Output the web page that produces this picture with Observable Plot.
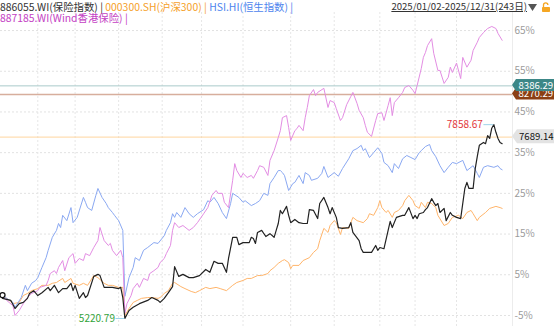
<!DOCTYPE html>
<html><head><meta charset="utf-8">
<script src="https://cdn.jsdelivr.net/npm/d3@7"></script>
<script src="https://cdn.jsdelivr.net/npm/@observablehq/plot@0.6"></script>
<style>
html,body{margin:0;padding:0;background:#fff;}
#wrap{position:relative;width:554px;height:326px;overflow:hidden;font-family:"Noto Sans CJK SC","Noto Sans",sans-serif;}
#legend{position:absolute;left:0;top:1px;font-size:10.4px;line-height:11px;z-index:2;white-space:nowrap}
#range{position:absolute;right:27px;top:1px;font-size:9.6px;line-height:11px;color:#333;text-decoration:underline;z-index:2;white-space:nowrap}
#tri{position:absolute;left:528px;top:4px;z-index:2}
#lock{position:absolute;left:541px;top:2px;z-index:2}
</style></head>
<body>
<div id="wrap">
  <div id="legend"></div>
  <div id="range"></div>
  <svg id="tri" width="9" height="8"><polygon points="0,0 9,0 4.5,7" fill="#555"/></svg>
  <svg id="lock" width="10" height="10"><path d="M2.5 5 V3 a2.2 2.2 0 0 1 4.4 0" fill="none" stroke="#f5a623" stroke-width="1.3"/><rect x="1" y="5" width="8" height="5" rx="0.8" fill="#f5a623"/></svg>
</div>
<script>
// ---- data (trading-day index since 2025/01/02, % change) ----
const categories = ["886055.WI(保险指数)", "000300.SH(沪深300)", "HSI.HI(恒生指数)", "887185.WI(Wind香港保险)"];
const seriesColors = ["#222222", "#ffb56b", "#8aa8f2", "#e38de3"];
const legendColors = ["#333333", "#f5a02a", "#4d84ee", "#c441c4"];
const dateRange = "2025/01/02-2025/12/31(243日)";
const monthStarts = [18, 36, 57, 78, 97, 117, 140, 161, 183, 200, 220];
const yTicks = [-5, 5, 15, 25, 35, 45, 55, 65];
const basePrice = 5539;
const refLevels = [8270.29, 8386.29];
const lastPrice = 7689.14;
const maxPoint = [238, 7858.67];
const minPoint = [60, 5220.79];

const insuranceIdx = [[0,0],[1,-0.8],[5,-1.3],[7,-3.3],[9,-2.1],[11,-1.8],[13,-0.8],[14,0.4],[16,1.1],[18,-0.1],[20,0.6],[23,1.9],[24,1.1],[26,2.4],[28,0.6],[30,1.6],[32,1.6],[34,2.9],[35,1.1],[36,2.4],[38,-0.8],[40,0.6],[41,-0.6],[42,-0.1],[45,4.6],[47,5.1],[48,4.8],[50,1.9],[52,1.9],[54,1.9],[57,1.6],[58,1.9],[59,-0.6],[60,-5.75],[62,-3.8],[64,-3.0],[67,-2.1],[71,-1.3],[73,-0.6],[76,-1.3],[77,-1.8],[79,-0.8],[81,0.6],[83,2.1],[84,7.0],[86,4.6],[88,5.1],[91,4.3],[93,4.3],[96,4.8],[99,6.3],[101,5.6],[103,8.3],[105,7.8],[107,7.8],[109,5.6],[110,9.0],[112,14.2],[114,14.2],[115,12.4],[117,12.9],[120,12.9],[121,14.2],[122,13.9],[123,12.7],[124,15.4],[126,15.9],[128,14.4],[130,15.1],[132,14.2],[133,15.9],[134,17.6],[135,20.8],[136,20.0],[138,21.8],[139,19.6],[140,17.8],[142,18.6],[144,17.8],[146,17.6],[148,17.6],[149,21.0],[151,20.8],[153,18.8],[154,22.5],[156,24.0],[158,21.5],[159,20.0],[160,21.5],[162,19.1],[163,16.6],[165,16.4],[168,16.6],[169,17.8],[170,15.4],[173,13.4],[174,11.4],[175,10.5],[177,10.5],[179,10.5],[181,12.2],[182,11.0],[183,11.7],[185,11.4],[187,15.9],[188,18.1],[189,16.6],[191,19.1],[194,19.6],[195,19.6],[197,21.5],[199,18.8],[200,19.6],[201,18.8],[202,20.0],[204,20.3],[205,21.0],[206,21.5],[208,23.7],[209,22.8],[210,22.0],[211,22.5],[212,20.3],[214,21.3],[215,18.3],[217,20.3],[218,19.6],[220,19.1],[222,18.8],[224,26.2],[225,27.7],[226,26.2],[228,26.2],[229,31.0],[230,34.0],[231,36.8],[233,37.5],[234,37.2],[235,39.2],[236,38.5],[237,41.0],[238,41.9],[239,40.0],[240,38.5],[241,37.5],[242,37.2]];

const csi300 = [[0,0],[3,-0.8],[6,-2.1],[9,-1.8],[11,-0.1],[13,0.4],[15,1.1],[18,1.6],[20,2.4],[23,2.4],[25,2.9],[27,3.1],[30,4.1],[31,3.1],[34,4.1],[35,2.9],[38,2.4],[40,2.9],[42,2.4],[45,4.8],[47,4.3],[50,2.9],[52,2.4],[54,2.4],[57,1.9],[59,1.9],[60,-5.0],[62,-3.3],[64,-1.8],[66,-1.3],[68,-0.8],[71,-0.6],[73,-0.6],[76,-0.8],[77,-0.6],[79,0.4],[81,1.1],[83,2.9],[84,3.1],[87,2.1],[89,1.6],[92,0.9],[94,0.6],[96,1.1],[99,1.9],[101,1.6],[104,1.9],[106,1.6],[109,1.1],[112,2.4],[114,3.1],[117,3.6],[119,4.1],[121,4.1],[124,4.8],[126,4.8],[129,5.3],[130,6.0],[132,6.8],[134,7.8],[136,8.5],[137,8.7],[139,8.0],[140,6.5],[141,7.3],[144,7.3],[146,8.5],[149,9.2],[151,10.5],[153,11.4],[154,13.4],[156,16.4],[158,15.4],[159,17.1],[161,18.3],[162,17.8],[164,14.9],[165,16.6],[168,16.4],[170,19.1],[172,18.3],[175,17.8],[177,18.8],[178,20.0],[180,19.6],[182,21.5],[183,23.2],[184,21.5],[186,20.3],[187,20.8],[189,19.1],[190,20.3],[192,20.8],[194,22.0],[195,23.2],[197,24.5],[199,23.2],[200,22.0],[202,21.3],[203,22.8],[205,21.5],[206,22.8],[208,22.5],[210,21.5],[211,19.6],[214,17.1],[216,17.6],[218,19.1],[221,19.6],[223,18.8],[225,20.3],[227,20.8],[228,20.0],[230,18.3],[231,19.1],[234,20.3],[236,21.3],[239,21.8],[241,21.5],[242,21.3]];

const hsi = [[0,0],[3,-0.8],[6,-1.8],[7,-3.0],[10,-0.6],[12,2.4],[13,1.1],[15,2.9],[17,3.6],[18,4.3],[20,6.8],[22,9.2],[23,11.0],[25,14.2],[27,15.9],[28,17.6],[29,16.6],[30,19.6],[32,18.3],[34,21.5],[35,17.8],[37,19.1],[40,24.0],[41,22.8],[42,21.5],[44,20.8],[46,24.5],[47,26.2],[49,24.0],[51,22.5],[52,21.5],[54,20.3],[55,19.6],[57,18.3],[59,15.9],[60,-0.3],[62,4.3],[64,6.8],[65,9.2],[67,8.5],[69,11.0],[71,11.7],[74,12.9],[76,12.7],[79,14.6],[80,15.9],[82,17.8],[83,20.0],[84,19.1],[85,20.3],[87,19.1],[89,21.5],[91,20.0],[93,19.1],[95,20.0],[98,21.0],[100,23.2],[101,22.8],[103,24.0],[105,22.5],[107,20.3],[109,18.8],[111,22.5],[112,25.0],[115,24.0],[117,22.8],[118,23.2],[121,22.0],[123,22.5],[125,23.2],[127,25.0],[129,24.5],[130,27.4],[132,28.9],[134,30.6],[135,30.6],[136,30.1],[137,29.4],[139,25.7],[141,27.4],[142,27.7],[144,29.4],[146,27.4],[147,30.1],[149,29.4],[150,28.2],[153,28.7],[155,29.9],[156,31.6],[158,28.9],[161,30.1],[163,29.2],[165,31.1],[168,33.5],[170,35.5],[172,36.0],[174,36.8],[175,35.5],[176,36.0],[178,33.8],[180,35.0],[182,36.2],[184,34.8],[185,32.6],[187,31.8],[189,30.1],[190,32.3],[192,31.1],[194,33.5],[196,34.3],[198,33.8],[200,33.3],[202,35.0],[203,35.5],[205,36.5],[207,37.0],[208,35.5],[210,34.0],[212,31.8],[214,30.1],[216,31.4],[218,32.6],[220,32.3],[223,33.1],[225,30.6],[228,31.8],[230,29.9],[231,28.9],[233,31.4],[235,31.8],[238,31.4],[240,31.8],[241,31.1],[242,30.8]];

const hkInsurance = [[0,0],[3,-1.3],[6,-2.6],[7,-5.0],[9,-3.8],[11,-2.1],[13,-0.6],[15,0.4],[18,1.1],[19,1.9],[22,2.4],[23,3.6],[24,5.3],[26,6.0],[27,5.3],[28,6.8],[30,8.5],[31,6.0],[33,9.2],[35,10.2],[36,7.8],[38,9.0],[40,8.5],[41,10.2],[43,9.7],[45,11.7],[47,13.4],[48,16.6],[50,13.4],[52,12.2],[53,12.7],[54,11.0],[56,9.7],[58,11.0],[59,9.2],[60,-4.5],[61,-2.1],[63,-0.1],[64,1.6],[66,2.9],[67,1.9],[69,4.1],[71,3.6],[72,5.3],[74,6.0],[76,6.8],[77,8.0],[79,9.0],[80,10.2],[82,12.2],[83,15.9],[84,17.8],[86,16.6],[88,17.1],[91,15.9],[93,16.6],[95,17.8],[98,20.0],[100,21.5],[102,24.5],[104,25.7],[105,25.0],[107,25.0],[108,22.8],[110,21.5],[112,28.2],[113,32.3],[114,30.6],[116,28.9],[117,29.9],[119,28.9],[121,29.4],[122,28.7],[124,30.6],[125,31.8],[127,31.4],[129,29.4],[130,33.1],[132,35.5],[134,38.7],[135,40.4],[136,43.6],[138,44.1],[139,41.2],[140,38.0],[142,40.4],[143,40.9],[144,41.7],[146,40.4],[147,43.6],[148,46.1],[149,49.0],[151,50.5],[152,49.0],[153,49.8],[156,50.8],[158,46.1],[159,47.8],[161,47.3],[162,45.8],[164,42.9],[165,43.6],[167,46.8],[169,48.8],[170,49.8],[172,47.1],[173,45.4],[175,43.6],[176,41.7],[177,40.0],[179,39.0],[181,42.9],[182,44.6],[184,44.8],[185,42.9],[187,46.6],[188,48.5],[189,44.1],[190,47.3],[192,48.5],[194,49.8],[195,51.0],[197,51.5],[199,50.3],[200,49.5],[201,51.5],[203,55.7],[204,58.4],[205,59.6],[206,61.3],[208,63.0],[209,59.4],[211,55.2],[212,55.2],[214,52.0],[216,53.5],[217,56.0],[218,54.7],[220,57.0],[222,53.2],[223,58.4],[225,56.0],[227,57.7],[228,60.1],[230,62.1],[231,63.3],[233,64.5],[235,65.5],[237,66.0],[239,65.5],[240,64.3],[242,62.6]];

// ---- header html ----
const legend = document.getElementById("legend");
const line1 = categories.slice(0, 3).map((c, i) => `<span style="color:${legendColors[i]}">${c} |</span>`).join(" ");
const line2 = `<span style="color:${legendColors[3]}">${categories[3]} |</span>`;
legend.innerHTML = line1 + "<br>" + line2;
document.getElementById("range").textContent = dateRange;

const pct = p => (p / basePrice - 1) * 100;
const xMax = 247;
const fx = d => d[0], fy = d => d[1];

const plot = Plot.plot({
  width: 554, height: 326,
  marginLeft: 0, marginRight: 42, marginTop: 12, marginBottom: 0,
  x: {domain: [0, xMax], axis: null},
  y: {domain: [-7.71, 69.43], axis: "right", ticks: yTicks, tickFormat: d => d + "%", tickSize: 0, tickPadding: 2, label: null},
  style: {fontFamily: '"Noto Sans CJK SC","Noto Sans",sans-serif', fontSize: "10px", color: "#9c9c9c", background: "transparent", overflow: "visible"},
  marks: [
    Plot.ruleY(yTicks, {stroke: "#e2e2e2", strokeDasharray: "2,2"}),
    Plot.ruleX(monthStarts, {stroke: "#e6e6e6", strokeDasharray: "2,2"}),
    Plot.ruleX([xMax], {stroke: "#ececec"}),
    Plot.ruleY([pct(refLevels[1])], {stroke: "#a9caca"}),
    Plot.ruleY([pct(refLevels[0])], {stroke: "#d7ae9d", strokeWidth: 1.5}),
    Plot.ruleY([pct(lastPrice)], {stroke: "#ffd59e"}),
    Plot.line(csi300, {x: fx, y: fy, stroke: seriesColors[1], strokeWidth: 1}),
    Plot.line(hsi, {x: fx, y: fy, stroke: seriesColors[2], strokeWidth: 1}),
    Plot.line(hkInsurance, {x: fx, y: fy, stroke: seriesColors[3], strokeWidth: 1}),
    Plot.line(insuranceIdx, {x: fx, y: fy, stroke: seriesColors[0], strokeWidth: 1.2}),
    Plot.dot([insuranceIdx[0]], {x: fx, y: fy, r: 2.5, stroke: "#111", strokeWidth: 1.3, fill: "white", dx: 2}),
    // extreme annotations
    Plot.ruleY([maxPoint], {x1: d => d[0] - 4.8, x2: d => d[0], y: d => pct(d[1]), stroke: "#9fd3ea"}),
    Plot.text([maxPoint], {x: d => d[0] - 4.8, y: d => pct(d[1]), text: d => d[1].toFixed(2), textAnchor: "end", dx: -1, fill: "#e2383c", fontSize: 10}),
    Plot.ruleY([minPoint], {x1: d => d[0] - 4.3, x2: d => d[0], y: d => pct(d[1]), stroke: "#9fd3ea"}),
    Plot.text([minPoint], {x: d => d[0] - 4.3, y: d => pct(d[1]), text: d => d[1].toFixed(2), textAnchor: "end", dx: -1, fill: "#34a43a", fontSize: 10}),
    // right-hand tags
    Plot.text([refLevels[0]], {x: () => xMax, y: d => pct(d), text: d => d.toFixed(2), textAnchor: "start", dx: 6, fill: "white", fontSize: 9.6, ariaDescription: "tag-brown"}),
    Plot.text([refLevels[1]], {x: () => xMax, y: d => pct(d), text: d => d.toFixed(2), textAnchor: "start", dx: 6, fill: "white", fontSize: 9.6, ariaDescription: "tag-teal"}),
    Plot.text([lastPrice], {x: () => xMax, y: d => pct(d), text: d => d.toFixed(2), textAnchor: "start", dx: 6.5, fill: "#111", fontSize: 9.6, ariaDescription: "tag-gray"})
  ]
});
plot.style.position = "absolute";
plot.style.left = "0";
plot.style.top = "0";
document.getElementById("wrap").appendChild(plot);

// backgrounds for the tags (shape behind each tag text)
const svgRect = plot.getBoundingClientRect();
const tagStyles = {"tag-brown": {fill: "#8b3f14", h: 12, left: 516}, "tag-teal": {fill: "#3c8787", h: 12, left: 516}, "tag-gray": {fill: "#e3e3e3", h: 14, left: 517}};
Object.entries(tagStyles).forEach(([name, st]) => {
  const g = plot.querySelector(`g[aria-description="${name}"]`);
  if (!g) return;
  const t = g.querySelector("text");
  const r = t.getBoundingClientRect();
  const cy = r.top + r.height / 2 - svgRect.top;
  const tip = 512;
  const y0 = cy - st.h / 2, y1 = cy + st.h / 2;
  const p = document.createElementNS("http://www.w3.org/2000/svg", "path");
  p.setAttribute("d", `M${tip},${cy} L${st.left},${y0} L554,${y0} L554,${y1} L${st.left},${y1} Z`);
  p.setAttribute("fill", st.fill);
  g.parentNode.insertBefore(p, g);
});
</script>
</body></html>
